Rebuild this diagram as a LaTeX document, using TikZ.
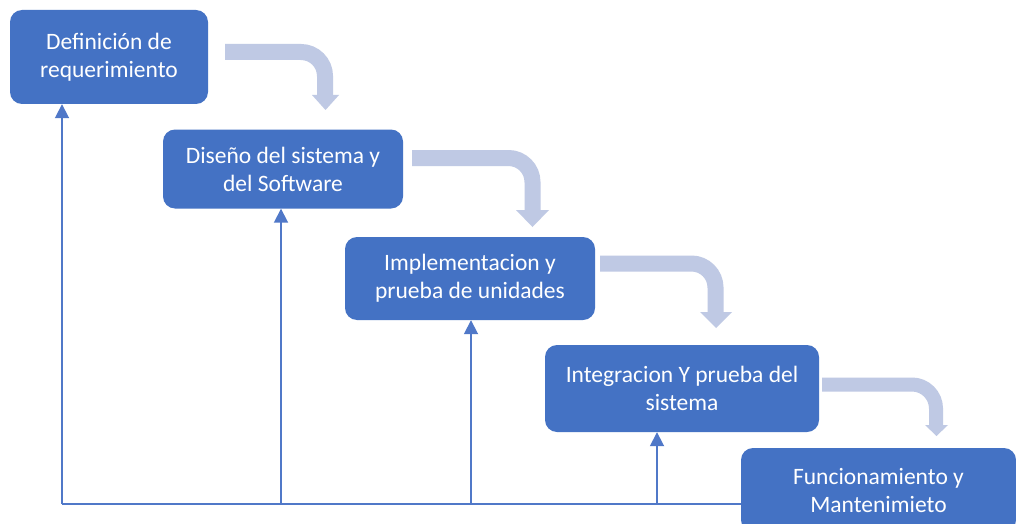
\documentclass[tikz,border=0pt]{standalone}
\usepackage{fontspec}
\setmainfont{Carlito}
\usetikzlibrary{arrows.meta}
\definecolor{boxblue}{RGB}{68,114,196}
\definecolor{lineblue}{RGB}{80,120,200}
\definecolor{flowblue}{RGB}{191,201,228}
\tikzset{
  box/.style={draw=none, fill=boxblue, rounded corners=12pt, text=white, align=center,
    font=\fontsize{23.5pt}{28pt}\selectfont, inner sep=0pt},
  band/.style={draw=flowblue, line width=16pt, rounded corners=24pt},
  bandhead/.style={fill=flowblue, draw=none},
  fb/.style={draw=lineblue, line width=1.8pt},
  fbarrow/.style={fb, -{Triangle[width=14pt,length=14pt]}},
}
\begin{document}
\begin{tikzpicture}[x=1pt,y=-1pt]
\clip (0,0) rectangle (1016,524);
\fill[white] (0,0) rectangle (1016,524);
% boxes
\node[box, minimum width=198pt, minimum height=94pt] (b1) at (109,57) {Definición de\\requerimiento};
\node[box, minimum width=240pt, minimum height=79pt] (b2) at (283,169) {Diseño del sistema y\\del Software};
\node[box, minimum width=250pt, minimum height=83pt] (b3) at (470,278.5) {Implementacion y\\prueba de unidades};
\node[box, minimum width=274pt, minimum height=87pt] (b4) at (682,388.5) {Integracion Y prueba del\\sistema};
\node[box, minimum width=275pt, minimum height=84pt] (b5) at (878.5,490) {Funcionamiento y\\Mantenimieto};
% flow arrows
\draw[band] (225,52) -- (325,52) -- (325,96);
\fill[bandhead] (312,95) -- (339,95) -- (325.5,110) -- cycle;
\draw[band] (412,158) -- (532.5,158) -- (532.5,211);
\fill[bandhead] (516,210) -- (549,210) -- (532.5,227) -- cycle;
\draw[band] (600,263.5) -- (715.5,263.5) -- (715.5,313);
\fill[bandhead] (700,312) -- (732,312) -- (716,328) -- cycle;
\draw[band, line width=14pt] (822,384.5) -- (936,384.5) -- (936,426);
\fill[bandhead] (925,425) -- (948,425) -- (936.5,436) -- cycle;
% feedback lines
\coordinate (h1) at (62,504);
\coordinate (h2) at (281,504);
\coordinate (h3) at (471,504);
\coordinate (h4) at (657,504);
\draw[fb] (h1) -- (h1 -| b5.west);
\draw[fbarrow] (h1) -- (h1 |- b1.south);
\draw[fbarrow] (h2) -- (h2 |- b2.south);
\draw[fbarrow] (h3) -- (h3 |- b3.south);
\draw[fbarrow] (h4) -- (h4 |- b4.south);
\end{tikzpicture}
\end{document}
